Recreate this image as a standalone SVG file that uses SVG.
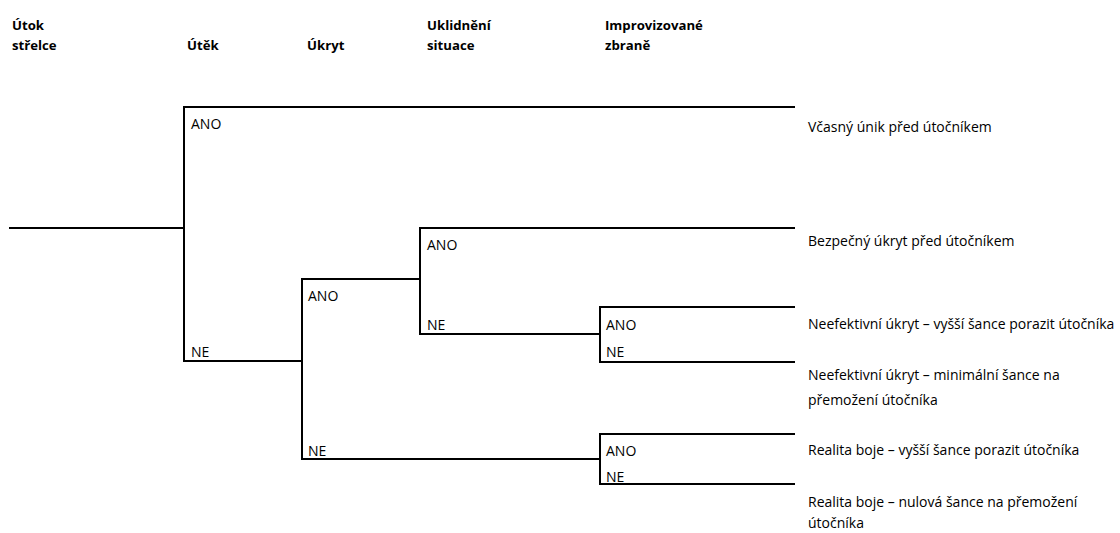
<svg xmlns="http://www.w3.org/2000/svg" width="1120" height="533" viewBox="0 0 1120 533">
<style>
.h{font-family:"Open Sans","Liberation Sans",sans-serif;font-weight:bold;font-size:13.2px;fill:#000}
.t{font-family:"Open Sans","Liberation Sans",sans-serif;font-size:14px;fill:#000}
.c{fill:none;stroke:#000;stroke-width:2}
</style>
<rect width="1120" height="533" fill="#fff"/>
<g id="headers">
<text class="h" x="12" y="30">Útok</text>
<text class="h" x="12" y="50">střelce</text>
<text class="h" x="187" y="50">Útěk</text>
<text class="h" x="307" y="50">Úkryt</text>
<text class="h" x="427" y="30">Uklidnění</text>
<text class="h" x="427" y="50">situace</text>
<text class="h" x="605" y="30">Improvizované</text>
<text class="h" x="605" y="50">zbraně</text>
</g>
<g id="connectors">
<path class="c" d="M9,228 H184"/>
<path class="c" d="M795,107 H184 V361 H302"/>
<path class="c" d="M420,279 H302 V459 H600"/>
<path class="c" d="M795,228 H420 V334 H600"/>
<path class="c" d="M795,307 H600 V362 H795"/>
<path class="c" d="M795,434 H600 V484 H795"/>
</g>
<g id="labels">
<text class="t" x="191" y="129">ANO</text>
<text class="t" x="191" y="357">NE</text>
<text class="t" x="308" y="301">ANO</text>
<text class="t" x="308" y="456">NE</text>
<text class="t" x="427" y="250">ANO</text>
<text class="t" x="427" y="330">NE</text>
<text class="t" x="606" y="330">ANO</text>
<text class="t" x="606" y="357">NE</text>
<text class="t" x="606" y="456">ANO</text>
<text class="t" x="606" y="482">NE</text>
</g>
<g id="outcomes">
<text class="t" x="808" y="132">Včasný únik před útočníkem</text>
<text class="t" x="808" y="246">Bezpečný úkryt před útočníkem</text>
<text class="t" x="808" y="329">Neefektivní úkryt – vyšší šance porazit útočníka</text>
<text class="t" x="808" y="380">Neefektivní úkryt – minimální šance na</text>
<text class="t" x="808" y="405">přemožení útočníka</text>
<text class="t" x="808" y="455">Realita boje – vyšší šance porazit útočníka</text>
<text class="t" x="808" y="507">Realita boje – nulová šance na přemožení</text>
<text class="t" x="808" y="528">útočníka</text>
</g>
</svg>
